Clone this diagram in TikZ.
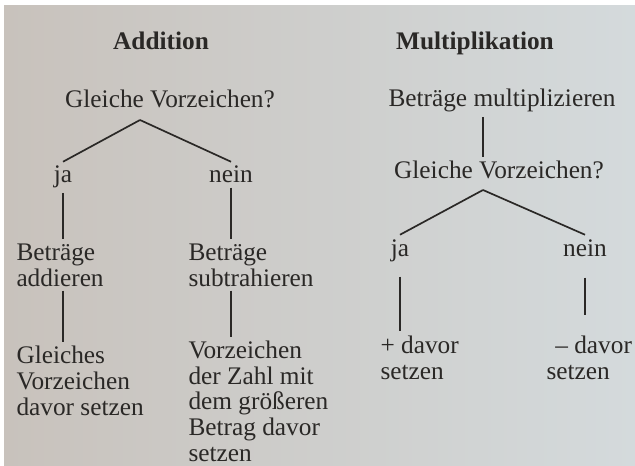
\documentclass[tikz,border=0pt]{standalone}
\usepackage{fontspec}
\setmainfont{Liberation Serif}
\usepackage{tikz}
\usetikzlibrary{positioning}
\usepackage{xcolor}
\definecolor{paperleft}{RGB}{200,194,188}
\definecolor{paperright}{RGB}{212,218,220}
\definecolor{inkcolor}{RGB}{42,40,38}

\begin{document}
\begin{tikzpicture}[x=0.025cm, y=-0.025cm]
  \tikzset{
    head/.style={
      font=\bfseries\fontsize{18}{18.2}\selectfont,
      text=inkcolor,
      anchor=base
    },
    txt/.style={
      font=\fontsize{18}{18.2}\selectfont,
      text=inkcolor,
      inner sep=3pt,
      anchor=base
    },
    block/.style={
      txt,
      align=left,
      anchor=base west
    },
    tree/.style={
      draw=inkcolor,
      line width=1.2pt
    }
  }
  \useasboundingbox (0,0) rectangle (635,465);

  % Draw the paper
  \fill[left color=paperleft, right color=paperright] (4,6) rectangle (635,465);

  % Addition tree (blocks sit on the baseline of their last line)
    \node[head] (addhead) at (161,50) {Addition};
    \node[txt] (addq) at (170,108) {Gleiche Vorzeichen?};
    \coordinate (addtop) at (140,120);
    \node[txt] (addja) at (63,183) {ja};
    \node[txt] (addnein) at (231,183) {nein};
    \node[block] (addbetr) at (12,286) {Beträge\\addieren};
    \node[block] (addsign) at (12,415) {Gleiches\\Vorzeichen\\davor setzen};
    \node[block] (subbetr) at (184,286) {Beträge\\subtrahieren};
    \node[block] (subsign) at (184,461) {Vorzeichen\\der Zahl mit\\dem größeren\\Betrag davor\\setzen};

    \draw[tree] (addtop) -- (addja.north);
    \draw[tree] (addtop) -- (addnein.north);
    \draw[tree] (addja.south) -- (addja.south |- addbetr.north);
    \draw[tree] (addja.south |- addbetr.south) -- (addja.south |- addsign.north);
    \draw[tree] (addnein.south) -- (addnein.south |- subbetr.north);
    \draw[tree] (addnein.south |- subbetr.south) -- (addnein.south |- subsign.north);

  % Multiplication tree
    \node[head] (mulhead) at (475,50) {Multiplikation};
    \node[txt] (mulbetr) at (502,107) {Beträge multiplizieren};
    \node[txt] (mulq) at (499,179) {Gleiche Vorzeichen?};
    \coordinate (multop) at (483,190);
    \node[txt] (mulja) at (400,256) {ja};
    \node[txt] (mulnein) at (585,256) {nein};
    \node[block] (mulplus) at (376,379) {+ davor\\setzen};
    \node[block] (mulminus) at (542,379) {\hspace{0.35em}– davor\\setzen};

    \draw[tree] (mulbetr.south -| multop) -- (mulq.north -| multop);
    \draw[tree] (multop) -- (mulja.north);
    \draw[tree] (multop) -- (mulnein.north);
    \draw[tree, shorten <=2.7mm] (mulja.south) -- (mulja.south |- mulplus.north);
    \draw[tree, shorten <=4.2mm, shorten >=4mm] (mulnein.south) -- (mulnein.south |- mulminus.north);

\end{tikzpicture}
\end{document}
